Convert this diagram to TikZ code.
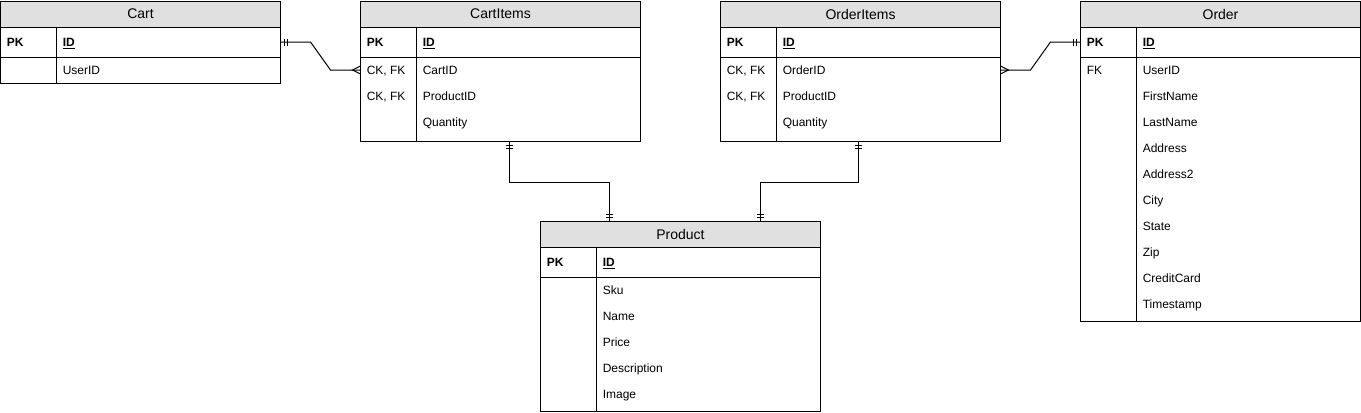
\documentclass[tikz,border=0pt]{standalone}
\usepackage{fontspec}
\setmainfont{Liberation Sans}
\usepackage{tikz}
\usetikzlibrary{calc,positioning,decorations.markings}
\definecolor{headc}{HTML}{E0E0E0}
\definecolor{linec}{HTML}{000000}
\def\pxu{0.75pt}
\tikzset{
  erbox/.style={draw=linec,line width=\pxu,fill=white,rectangle,anchor=north west,outer sep=0pt,inner sep=0pt},
  erhead/.style={draw=linec,line width=\pxu,fill=headc,anchor=north west,outer sep=0pt,inner sep=0pt,minimum height=26*\pxu,font=\fontsize{10.5}{12}\selectfont},
  erkey/.style={anchor=west,inner sep=0pt,text height=6.4pt,text depth=0pt,font=\fontsize{9}{11}\selectfont},
  erline/.style={draw=linec,line width=\pxu},
  one start/.style={postaction={decorate,decoration={markings,mark=at position 0 with {\draw[erline] (4,-3.5)--(4,3.5) (7,-3.5)--(7,3.5);}}}},
  one end/.style={postaction={decorate,decoration={markings,mark=at position 1 with {\draw[erline] (-4,-3.5)--(-4,3.5) (-7,-3.5)--(-7,3.5);}}}},
  many start/.style={postaction={decorate,decoration={markings,mark=at position 0 with {\draw[erline] (0,-4)--(8,0)--(0,4);}}}},
  many end/.style={postaction={decorate,decoration={markings,mark=at position 1 with {\draw[erline] (0,-4)--(-8,0)--(0,4);}}}}
}
% table: name, top left, width, height, title, key/field rows
\newcommand{\erentity}[6]{%
  \node[erbox,minimum width=#3*\pxu,minimum height=#4*\pxu] (#1) at (#2) {};
  \node[erhead,minimum width=#3*\pxu] (#1-head) at (#1.north west) {#5};
  \draw[erline] ($(#1.north west)+(0,56)$) -- ($(#1.north east)+(0,56)$);
  \draw[erline] ($(#1.north west)+(56,26)$) -- ($(#1.south west)+(56,0)$);
  \node[erkey] (#1-pk) at ($(#1.north west)+(6,41)$) {\textbf{PK}};
  \node[erkey] (#1-id) at ($(#1.north west)+(62,41)$) {\textbf{\underline{ID}}};
  \foreach \k/\f [count=\i] in {#6} {
    \node[erkey] (#1-k\i) at ($(#1.north west)+(6,43+26*\i)$) {\k};
    \node[erkey] (#1-\i) at ($(#1.north west)+(62,43+26*\i)$) {\f};
  }
}

\begin{document}
\begin{tikzpicture}[x=0.75pt,y=-0.75pt]
\useasboundingbox (0,0) rectangle (1361,412);
\erentity{cart}{0.5,1}{280}{82}{Cart}{/UserID}
\erentity{citems}{360.5,1}{280}{140}{CartItems}{{CK, FK}/CartID,{CK, FK}/ProductID,/Quantity}
\erentity{oitems}{720.5,1}{280}{140}{OrderItems}{{CK, FK}/OrderID,{CK, FK}/ProductID,/Quantity}
\erentity{order}{1080.5,1}{280}{320}{Order}{FK/UserID,/FirstName,/LastName,/Address,/Address2,/City,/State,/Zip,/CreditCard,/Timestamp}
\erentity{product}{540.5,221}{280}{190}{Product}{/Sku,/Name,/Price,/Description,/Image}
% relations
\draw[erline,one start,many end] (cart.east |- cart-pk) -- ++(30,0) -- ($(citems.west |- citems-1)+(-30,0)$) -- (citems.west |- citems-1);
\draw[erline,many start,one end] (oitems.east |- oitems-1) -- ++(30,0) -- ($(order.west |- order-pk)+(-30,0)$) -- (order.west |- order-pk);
\draw[erline,one start,one end] ($(citems.south)+(9,0)$) -- ++(0,41.5) -| ($(product.north)+(-71,0)$);
\draw[erline,one start,one end] ($(oitems.south)+(-2.5,0)$) -- ++(0,41) -| ($(product.north)+(79.5,0)$);
\end{tikzpicture}
\end{document}
